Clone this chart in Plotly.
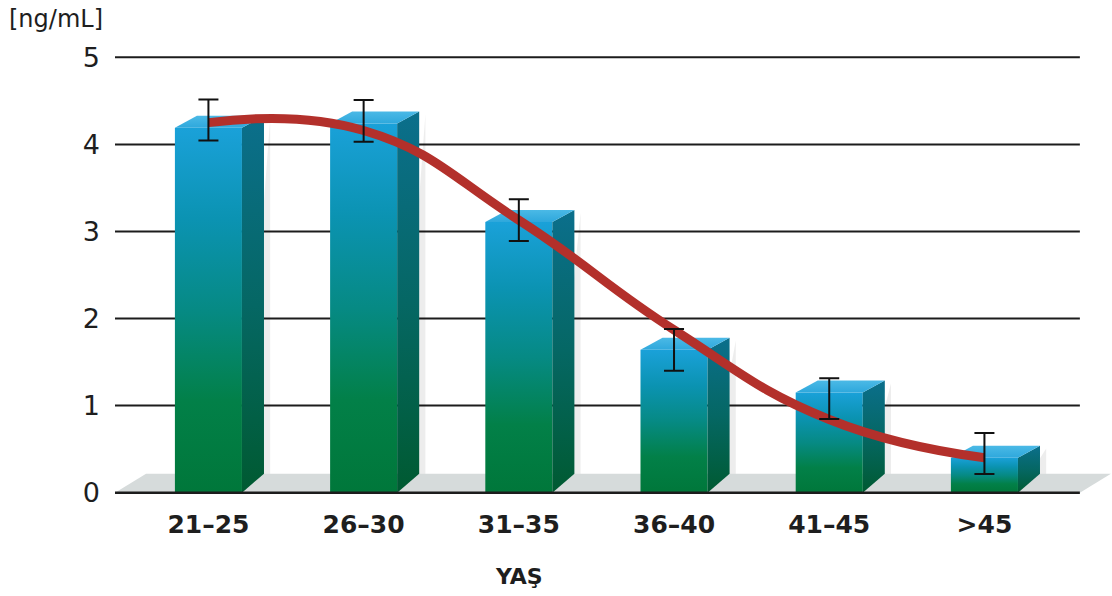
import plotly.graph_objects as go

# Serum AMH by age group
age_groups = ["21–25", "26–30", "31–35", "36–40", "41–45", ">45"]
amh_bar = [4.19, 4.24, 3.11, 1.64, 1.15, 0.40]
amh_mean = [4.28, 4.27, 3.13, 1.64, 1.08, 0.45]
amh_sem = [0.235, 0.24, 0.24, 0.24, 0.235, 0.235]
trend = [4.25, 4.16, 3.13, 1.87, 0.84, 0.40]
y_ticks = [0, 1, 2, 3, 4, 5]

W, H = 1112, 596
M_L, M_R, M_T, M_B = 115, 0, 53, 99
X_RANGE = [-0.602, 5.822]
Y_RANGE = [-0.05, 5.05]

# pseudo-3D bar geometry (data units)
HALF_W = 0.216
DX = 0.142
DY_TOP = 0.138
DY_BASE = 0.218
FLOOR_DX = 0.2
X_GRID_R = 5.615

FRONT_SCALE = [[0, "#00773a"], [0.25, "#028048"], [0.5, "#068a84"],
               [0.75, "#0b93b2"], [1, "#1aa1d9"]]
SIDE_SCALE = [[0, "#005a31"], [0.5, "#056764"], [1, "#0b6f8c"]]
TOP_SCALE = [[0, "#2ea8dc"], [1, "#4bb9e6"]]

FONT = "DejaVu Sans"
TEXT_COLOR = "#1e1e1e"


def px_to_paper_x(px):
    return (px - M_L) / (W - M_L - M_R)


def px_to_paper_y(py):
    return 1 - (py - M_T) / (H - M_T - M_B)


fig = go.Figure()


def poly(xs, ys, **kw):
    fig.add_trace(go.Scatter(
        x=xs + [xs[0]], y=ys + [ys[0]], mode="lines", fill="toself",
        line=dict(width=0), hoverinfo="skip", showlegend=False, **kw))


# floor slab
x_left = X_RANGE[0]
poly([x_left, X_GRID_R, X_GRID_R + FLOOR_DX, x_left + FLOOR_DX],
     [0, 0, DY_BASE, DY_BASE], fillcolor="#d6dbdb")

# horizontal grid lines
for t in y_ticks[1:]:
    fig.add_trace(go.Scatter(x=[x_left, X_GRID_R], y=[t, t], mode="lines",
                             line=dict(color="#1c1c1c", width=2),
                             hoverinfo="skip", showlegend=False))

# bars: front, side and top faces
for i, v in enumerate(amh_bar):
    x0, x1 = i - HALF_W, i + HALF_W
    # soft shadow behind the side face
    poly([x1 + DX, x1 + DX + 0.04, x1 + DX + 0.04, x1],
         [DY_BASE, DY_BASE, v + DY_TOP - 0.03, 0], fillcolor="rgba(0,0,0,0.07)")
    poly([x0, x1, x1, x0], [0, 0, v, v],
         fillgradient=dict(type="vertical", colorscale=FRONT_SCALE))
    poly([x1, x1 + DX, x1 + DX, x1], [0, DY_BASE, v + DY_TOP, v],
         fillgradient=dict(type="vertical", colorscale=SIDE_SCALE))
    poly([x0, x1, x1 + DX, x0 + DX], [v, v, v + DY_TOP, v + DY_TOP],
         fillgradient=dict(type="vertical", colorscale=TOP_SCALE))

# baseline
fig.add_trace(go.Scatter(x=[x_left, X_GRID_R], y=[0, 0], mode="lines",
                         line=dict(color="#1c1c1c", width=2.5),
                         hoverinfo="skip", showlegend=False))

# trend curve
fig.add_trace(go.Scatter(x=list(range(len(trend))), y=trend, mode="lines",
                         line=dict(color="#b3302b", width=9, shape="spline", smoothing=1.3),
                         hoverinfo="skip", showlegend=False))

# mean ± SEM
fig.add_trace(go.Scatter(x=list(range(len(amh_mean))), y=amh_mean, mode="markers",
                         marker=dict(size=1, opacity=0),
                         error_y=dict(type="data", array=amh_sem, color="#111111",
                                      thickness=2, width=10),
                         hoverinfo="skip", showlegend=False))

fig.update_layout(
    width=W, height=H,
    margin=dict(l=M_L, r=M_R, t=M_T, b=M_B),
    paper_bgcolor="white", plot_bgcolor="white",
    xaxis=dict(range=X_RANGE, tickvals=list(range(len(age_groups))), ticktext=age_groups,
               showgrid=False, zeroline=False, showline=False, ticks="",
               ticklabelstandoff=10,
               tickfont=dict(family=FONT, size=25, weight="bold", color=TEXT_COLOR)),
    yaxis=dict(range=Y_RANGE, tickvals=y_ticks, showgrid=False, zeroline=False,
               showline=False, ticks="", ticklabelstandoff=14,
               tickfont=dict(family=FONT, size=27, color=TEXT_COLOR)),
    annotations=[
        dict(text="[ng/mL]", xref="paper", yref="paper",
             x=px_to_paper_x(7), y=px_to_paper_y(3), xanchor="left", yanchor="top",
             showarrow=False, font=dict(family=FONT, size=24, color=TEXT_COLOR)),
        dict(text="YAŞ", xref="paper", yref="paper",
             x=px_to_paper_x(519), y=px_to_paper_y(576), xanchor="center", yanchor="middle",
             showarrow=False, font=dict(family=FONT, size=22, weight="bold", color=TEXT_COLOR)),
    ],
)

fig.write_html("out.html")
